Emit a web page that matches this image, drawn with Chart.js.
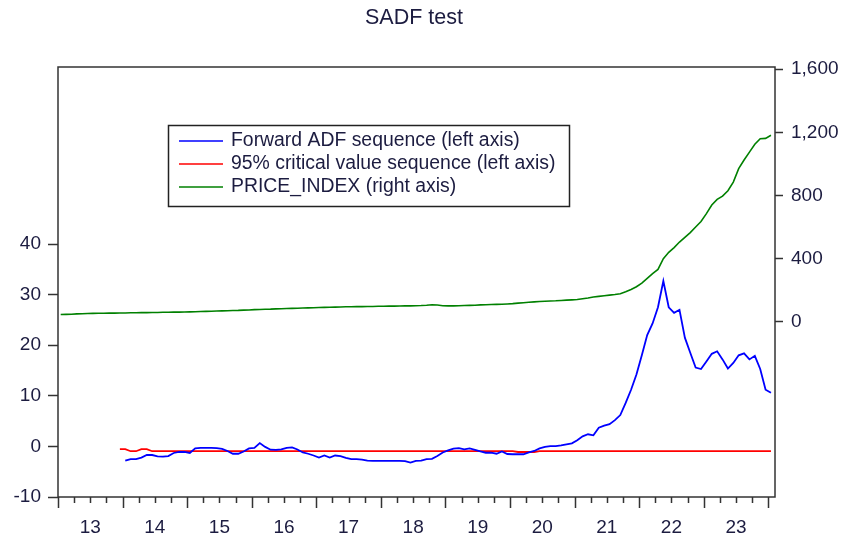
<!DOCTYPE html>
<html>
<head>
<meta charset="utf-8">
<title>SADF test</title>
<script src="https://cdn.jsdelivr.net/npm/chart.js@4.4.1/dist/chart.umd.min.js"></script>
<style>
  html, body { margin: 0; padding: 0; background: #fff; }
  #wrap { width: 842px; height: 535px; }
</style>
</head>
<body>
<div id="wrap"><canvas id="sadfChart" width="842" height="535"></canvas></div>
<script>
// =========================
// Data (monthly, Jan 2013 .. Jan 2024)
// =========================
const yearLabels = ["13", "14", "15", "16", "17", "18", "19", "20", "21", "22", "23"];
const leftTicks = [-10, 0, 10, 20, 30, 40];
const rightTicks = [0, 400, 800, 1200, 1600];

const adfSeq = [
  null, null, null, null, null, null, null, null, null, null, null, null,
  -2.8, -2.5, -2.5, -2.2, -1.7, -1.7, -1.95, -2.0, -1.9, -1.3, -1.1, -1.1,
  -1.3, -0.4, -0.3, -0.3, -0.3, -0.35, -0.5, -0.9, -1.45, -1.45, -1.0, -0.4,
  -0.3, 0.65, -0.1, -0.65, -0.7, -0.6, -0.3, -0.2, -0.6, -1.2, -1.45, -1.8,
  -2.2, -1.8, -2.2, -1.8, -1.9, -2.25, -2.5, -2.5, -2.6, -2.8, -2.85, -2.85,
  -2.85, -2.85, -2.85, -2.85, -2.9, -3.2, -2.85, -2.8, -2.5, -2.45, -1.9, -1.2,
  -0.8, -0.45, -0.35, -0.6, -0.4, -0.7, -1.0, -1.25, -1.25, -1.45, -1.0, -1.5,
  -1.55, -1.55, -1.55, -1.2, -0.9, -0.4, -0.1, 0.05, 0.05, 0.2, 0.4, 0.6,
  1.2, 2.0, 2.4, 2.2, 3.7, 4.1, 4.4, 5.2, 6.2, 8.6, 11.2, 14.2,
  18.0, 22.0, 24.3, 27.5, 32.7, 27.5, 26.4, 27.0, 21.5, 18.5, 15.6, 15.3,
  16.8, 18.3, 18.8, 17.2, 15.4, 16.5, 18.0, 18.4, 17.2, 17.9, 15.3, 11.2,
  10.6
];

const critSeq = [
  null, null, null, null, null, null, null, null, null, null, null, -0.55,
  -0.55, -0.95, -0.95, -0.55, -0.55, -0.95, -0.95, -0.95, -0.95, -0.95, -0.95, -0.95,
  -0.95, -0.95, -0.95, -0.95, -0.95, -0.95, -0.95, -0.95, -0.95, -0.95, -0.95, -0.95,
  -0.95, -0.95, -0.95, -0.95, -0.95, -0.95, -0.95, -0.95, -0.95, -0.95, -0.95, -0.95,
  -0.95, -0.95, -0.95, -0.95, -0.95, -0.95, -0.95, -0.95, -0.95, -0.95, -0.95, -0.95,
  -0.95, -0.95, -0.95, -0.95, -0.95, -0.95, -0.95, -0.95, -0.95, -0.95, -0.95, -0.95,
  -0.95, -0.95, -0.95, -0.95, -0.95, -0.95, -0.95, -0.95, -0.95, -0.95, -0.95, -0.95,
  -0.95, -1.1, -1.1, -1.1, -1.1, -0.95, -0.95, -0.95, -0.95, -0.95, -0.95, -0.95,
  -0.95, -0.95, -0.95, -0.95, -0.95, -0.95, -0.95, -0.95, -0.95, -0.95, -0.95, -0.95,
  -0.95, -0.95, -0.95, -0.95, -0.95, -0.95, -0.95, -0.95, -0.95, -0.95, -0.95, -0.95,
  -0.95, -0.95, -0.95, -0.95, -0.95, -0.95, -0.95, -0.95, -0.95, -0.95, -0.95, -0.95,
  -0.95
];

const priceIndex = [
  46, 47, 48, 50, 51, 52, 53, 54, 54, 55, 55, 56,
  56, 57, 57, 58, 58, 59, 59, 60, 60, 61, 61, 62,
  63, 64, 65, 66, 67, 68, 69, 70, 71, 72, 74, 75,
  77, 78, 79, 80, 82, 83, 84, 85, 86, 87, 88, 89,
  90, 91, 92, 93, 94, 95, 95, 96, 96, 97, 97, 98,
  98, 99, 99, 100, 101, 101, 102, 103, 105, 108, 106, 102,
  101, 101, 102, 103, 104, 105, 107, 108, 109, 110, 111, 113,
  115, 118, 121, 124, 126, 128, 130, 132, 133, 135, 137, 139,
  141, 146, 151, 157, 161, 165, 169, 173, 178, 190, 205, 222,
  245, 275, 305, 332, 400, 440, 470, 505, 535, 565, 600, 635,
  685, 740, 775, 796, 830, 885, 970, 1025, 1075, 1125, 1160, 1162,
  1182
];

// =========================
// Styles
// =========================
const FONT = '"Liberation Sans", Arial, sans-serif';
const TEXT = "#1c1c40";
const AXIS = "#333333";

// month i sits in the middle of its slot
const toPoints = (arr) => arr.map((v, i) => ({ x: i + 0.5, y: v }));

// =========================
// Plugins
// =========================
const titlePlugin = {
  id: "titleText",
  afterDraw(chart) {
    const ctx = chart.ctx;
    ctx.save();
    ctx.font = "21.5px " + FONT;
    ctx.fillStyle = TEXT;
    ctx.textAlign = "center";
    ctx.textBaseline = "middle";
    ctx.fillText("SADF test", 414, 18);
    ctx.restore();
  },
};

const framePlugin = {
  id: "frame",
  afterDraw(chart) {
    const { ctx, chartArea: a, scales } = chart;
    ctx.save();
    ctx.strokeStyle = AXIS;
    ctx.lineWidth = 1.5;
    ctx.strokeRect(a.left, a.top, a.right - a.left, a.bottom - a.top);

    // quarter ticks, long ones at year starts
    const xs = scales.x;
    ctx.beginPath();
    for (let m = 0; m <= 132; m += 3) {
      const px = Math.round(xs.getPixelForValue(m)) + 0.5;
      const len = m % 12 === 0 ? 11 : 6;
      ctx.moveTo(px, a.bottom);
      ctx.lineTo(px, a.bottom + len);
    }
    ctx.stroke();
    ctx.restore();
  },
};

const boxLegend = {
  id: "boxLegend",
  afterDraw(chart) {
    const ctx = chart.ctx;
    const box = { x: 168.5, y: 125.5, w: 401, h: 81 };
    const rows = [141, 164, 187];
    ctx.save();
    ctx.fillStyle = "#fff";
    ctx.fillRect(box.x, box.y, box.w, box.h);
    ctx.strokeStyle = "#222";
    ctx.lineWidth = 1.5;
    ctx.strokeRect(box.x, box.y, box.w, box.h);
    ctx.font = "19.4px " + FONT;
    ctx.textBaseline = "middle";
    chart.data.datasets.forEach((ds, k) => {
      ctx.strokeStyle = ds.borderColor;
      ctx.lineWidth = 1.5;
      ctx.beginPath();
      ctx.moveTo(179, rows[k]);
      ctx.lineTo(223, rows[k]);
      ctx.stroke();
      ctx.fillStyle = TEXT;
      ctx.fillText(ds.label, 231, rows[k]);
    });
    ctx.restore();
  },
};

// =========================
// Chart
// =========================
const ctx = document.getElementById("sadfChart").getContext("2d");

new Chart(ctx, {
  type: "line",
  data: {
    datasets: [
      {
        label: "Forward ADF sequence (left axis)",
        data: toPoints(adfSeq),
        borderColor: "#0000ff",
        borderWidth: 1.8,
        yAxisID: "y",
      },
      {
        label: "95% critical value sequence (left axis)",
        data: toPoints(critSeq),
        borderColor: "#ff0000",
        borderWidth: 1.8,
        yAxisID: "y",
      },
      {
        label: "PRICE_INDEX (right axis)",
        data: toPoints(priceIndex),
        borderColor: "#008000",
        borderWidth: 1.6,
        yAxisID: "y1",
      },
    ],
  },
  options: {
    responsive: false,
    animation: false,
    layout: { padding: { top: 67, left: 0, right: 0, bottom: 0 } },
    elements: { point: { radius: 0 }, line: { tension: 0 } },
    plugins: {
      legend: { display: false },
      title: { display: false },
      tooltip: { enabled: false },
    },
    scales: {
      x: {
        type: "linear",
        min: 0,
        max: 133.25,
        grid: { display: false, drawTicks: false },
        border: { display: false },
        afterBuildTicks: (s) => {
          s.ticks = yearLabels.map((l, k) => ({ value: 6 + 12 * k }));
        },
        afterFit: (s) => {
          s.height = 38;
        },
        ticks: {
          autoSkip: false,
          maxRotation: 0,
          padding: 19,
          color: TEXT,
          font: { family: FONT, size: 19 },
          callback: (v, i) => yearLabels[i],
        },
      },
      y: {
        position: "left",
        min: -10,
        max: 75,
        grid: {
          drawOnChartArea: false,
          drawTicks: true,
          tickLength: 10,
          tickColor: AXIS,
          tickWidth: 1.5,
        },
        border: { display: false },
        afterBuildTicks: (s) => {
          s.ticks = leftTicks.map((v) => ({ value: v }));
        },
        afterFit: (s) => {
          s.width = 58;
        },
        ticks: {
          padding: 7,
          color: TEXT,
          font: { family: FONT, size: 19 },
        },
      },
      y1: {
        position: "right",
        min: -1110,
        max: 1614,
        grid: {
          drawOnChartArea: false,
          drawTicks: true,
          tickLength: 8,
          tickColor: AXIS,
          tickWidth: 1.5,
        },
        border: { display: false },
        afterBuildTicks: (s) => {
          s.ticks = rightTicks.map((v) => ({ value: v }));
        },
        afterFit: (s) => {
          s.width = 67;
        },
        ticks: {
          padding: 8,
          color: TEXT,
          font: { family: FONT, size: 19 },
          callback: (v) => v.toLocaleString("en-US"),
        },
      },
    },
  },
  plugins: [titlePlugin, framePlugin, boxLegend],
});
</script>
</body>
</html>
